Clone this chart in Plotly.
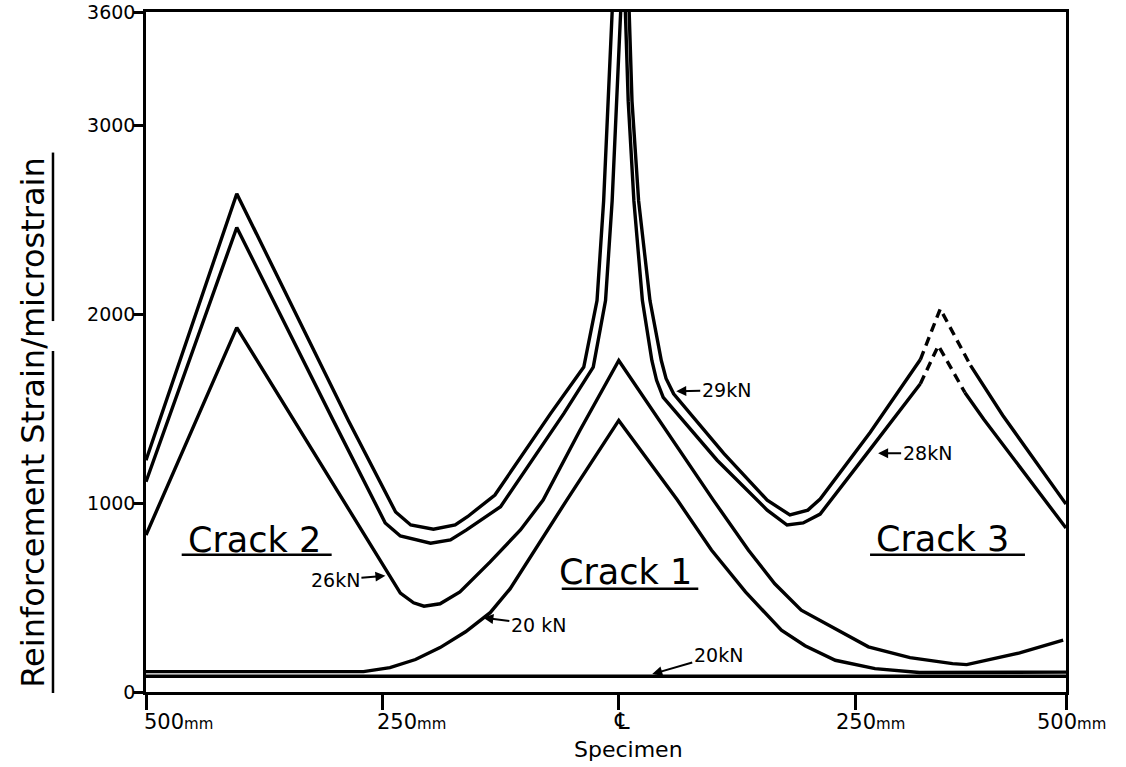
import plotly.graph_objects as go

# ---------------- data (position along specimen in mm, strain in microstrain) ----------------
# 29 kN curve (solid parts, None = break at crack 1 spike / dashed crack 3 peak)
pos_29 = [-500, -404, -286, -236, -220, -196, -173, -160, -131, -72, -37, -23, -16, -11, -7,
          None, 11, 14, 21, 33, 45, 50, 58, 111, 157, 181, 200, 213, 266, 319,
          None, 372, 406, 473]
val_29 = [1227, 2638, 1438, 953, 884, 862, 884, 928, 1043, 1475, 1720, 2072, 2600, 3128, 3600,
          None, 3600, 3128, 2600, 2072, 1755, 1660, 1579, 1263, 1016, 937, 963, 1021, 1375, 1760,
          None, 1729, 1465, 995]
pos_29_dash = [319, 340, 372]
val_29_dash = [1760, 2028, 1729]

# 28 kN curve
pos_28 = [-500, -404, -302, -247, -231, -199, -178, -161, -125, -58, -27, -14, -7, -2, 2,
          None, 7, 10, 16, 25, 35, 40, 47, 104, 157, 178, 195, 213, 266, 319,
          None, 366, 386, 473]
val_28 = [1113, 2459, 1438, 895, 826, 788, 805, 858, 981, 1475, 1720, 2072, 2600, 3128, 3600,
          None, 3600, 3128, 2600, 2072, 1755, 1650, 1560, 1227, 963, 884, 895, 942, 1286, 1632,
          None, 1586, 1444, 868]
pos_28_dash = [319, 338, 366]
val_28_dash = [1632, 1834, 1586]

# 26 kN curve
pos_26 = [-500, -404, -231, -217, -206, -189, -168, -136, -104, -80, -41, 0,
          100, 137, 165, 193, 264, 308, 353, 368, 424, 470]
val_26 = [831, 1929, 524, 472, 454, 467, 530, 689, 858, 1016, 1386, 1755,
          1016, 752, 573, 433, 239, 182, 150, 145, 207, 274]

# 20 kN curve
pos_20 = [-500, -270, -242, -215, -189, -162, -136, -115, -55, 0,
          62, 98, 134, 172, 197, 229, 271, 318, 473]
val_20 = [108, 108, 129, 172, 235, 319, 420, 546, 1016, 1438,
          1016, 752, 530, 327, 245, 168, 124, 103, 105]

# 20 kN flat line
pos_20_flat = [-500, 473]
val_20_flat = [83, 83]

# axes
x_tick_vals = [-500, -250, 0, 250, 473]
x_tick_labels = ["500", "250", "\u2104", "250", "500"]
y_tick_vals = [0, 1000, 2000, 3000, 3600]
y_tick_labels = ["0", "1000", "2000", "3000", "3600"]

FONT = "DejaVu Sans"
INK = "black"

fig = go.Figure()


def add_line(x, y, dash="solid"):
    fig.add_trace(go.Scatter(
        x=x, y=y, mode="lines",
        line=dict(color=INK, width=3.4, dash=dash),
        connectgaps=False, hoverinfo="skip", showlegend=False,
        cliponaxis=True,
    ))


add_line(pos_20_flat, val_20_flat)
add_line(pos_20, val_20)
add_line(pos_26, val_26)
add_line(pos_28, val_28)
add_line(pos_28_dash, val_28_dash, dash="9px,6px")
add_line(pos_29, val_29)
add_line(pos_29_dash, val_29_dash, dash="9px,6px")

annotations = []

# x tick labels (drawn slightly to the right of their ticks, as in the original)
tick_label_x = [0.035, 0.289, 0.517, 0.787, 1.006]
for lab, px in zip(x_tick_labels, tick_label_x):
    if lab == "\u2104":
        txt, size, py = lab, 23, -0.042
    else:
        txt, size, py = lab + "<span style='font-size:15px'>mm</span>", 21, -0.044
    annotations.append(dict(
        x=px, y=py, xref="paper", yref="paper", text=txt, showarrow=False,
        font=dict(family=FONT, size=size, color=INK), xanchor="center", yanchor="middle",
    ))

# axis titles
annotations.append(dict(
    x=0.524, y=-0.084, xref="paper", yref="paper", text="Specimen", showarrow=False,
    font=dict(family=FONT, size=22, color=INK), xanchor="center", yanchor="middle",
))
annotations.append(dict(
    x=-0.1228, y=0.396, xref="paper", yref="paper",
    text="Reinforcement Strain/microstrain", textangle=-90, showarrow=False,
    font=dict(family=FONT, size=32, color=INK), xanchor="center", yanchor="middle",
))

# crack labels
for txt, px, py in [("Crack 2", 0.1174, 0.2229), ("Crack 1", 0.5207, 0.176), ("Crack 3", 0.8663, 0.2243)]:
    annotations.append(dict(
        x=px, y=py, xref="paper", yref="paper", text=txt, showarrow=False,
        font=dict(family=FONT, size=35, color=INK), xanchor="center", yanchor="middle",
    ))

# load labels with arrows
for txt, x, y, ax, ay in [
    ("29kN", 60.8, 1592, 50, -1),
    ("28kN", 274.3, 1264, 49, 0),
    ("26kN", -246.8, 615, -50, 4),
    ("20 kN", -143.2, 393, 55, 7),
    ("20kN", 35.4, 95, 66, -19),
]:
    annotations.append(dict(
        x=x, y=y, xref="x", yref="y", text=txt, showarrow=True,
        ax=ax, ay=ay, axref="pixel", ayref="pixel",
        arrowhead=2, arrowsize=1, arrowwidth=2, arrowcolor=INK, standoff=0,
        font=dict(family=FONT, size=19, color=INK),
    ))

shapes = []
# underlines
for x0, x1, y0 in [(0.0388, 0.2018, 0.2019), (0.4519, 0.6003, 0.152), (0.787, 0.9554, 0.2019)]:
    shapes.append(dict(type="line", xref="paper", yref="paper", x0=x0, x1=x1, y0=y0, y1=y0,
                       line=dict(color=INK, width=2.5)))
for y0, y1 in [(-0.0015, 0.5015), (0.5455, 0.7933)]:
    shapes.append(dict(type="line", xref="paper", yref="paper", x0=-0.1011, x1=-0.1011, y0=y0, y1=y1,
                       line=dict(color=INK, width=2.5)))

fig.update_layout(
    width=1126, height=767,
    margin=dict(l=146, r=60, t=12, b=75, autoexpand=False),
    paper_bgcolor="white", plot_bgcolor="white",
    showlegend=False,
    annotations=annotations,
    shapes=shapes,
    xaxis=dict(
        range=[-500, 473], tickvals=x_tick_vals, showticklabels=False,
        ticks="outside", ticklen=15, tickwidth=2.5, tickcolor=INK,
        showline=True, linecolor=INK, linewidth=2.5, mirror=True,
        showgrid=False, zeroline=False, automargin=False,
    ),
    yaxis=dict(
        range=[0, 3600], tickvals=y_tick_vals, ticktext=y_tick_labels,
        ticks="outside", ticklen=10, tickwidth=2.5, tickcolor=INK,
        tickfont=dict(family=FONT, size=19, color=INK), ticklabelstandoff=-6,
        ticklabeloverflow="allow",
        showline=True, linecolor=INK, linewidth=2.5, mirror=True,
        showgrid=False, zeroline=False, automargin=False,
    ),
)

# remove the default 8px page margin so the figure fills the window exactly
fig.write_html(
    "out.html",
    config={"displayModeBar": False},
    post_script="document.body.style.margin='0px';",
)
